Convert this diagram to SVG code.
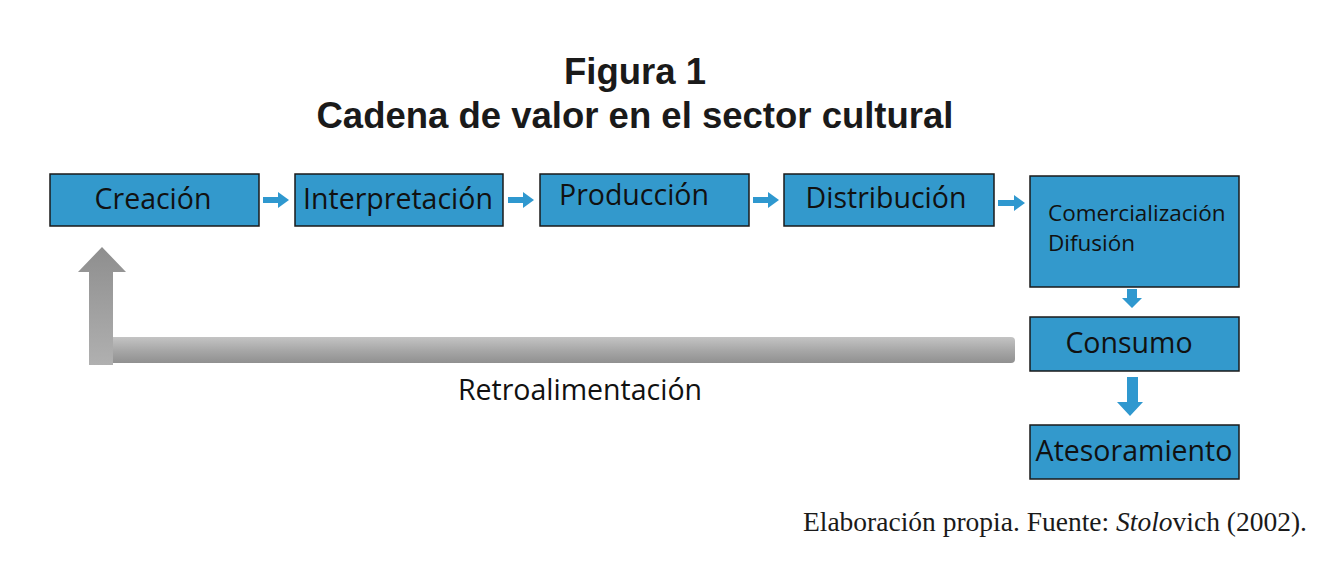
<svg xmlns="http://www.w3.org/2000/svg" width="1320" height="584" viewBox="0 0 1320 584">
<defs>
<style>
.box{fill:#3399cc;stroke:#1a1a1a;stroke-width:1.5}
.lbl{font-family:"Open Sans","Noto Sans",sans-serif;fill:#111;font-size:28.5px;text-anchor:middle}
.sm{font-family:"Open Sans","Noto Sans",sans-serif;fill:#111;font-size:22.5px}
.ttl{font-family:"Liberation Sans",Arial,sans-serif;font-weight:bold;font-size:36.5px;fill:#1a1a1a;text-anchor:middle}
.arr{fill:#2f98cf}
</style>
<linearGradient id="gh" x1="0" y1="0" x2="0" y2="1">
<stop offset="0" stop-color="#c4c4c4"/><stop offset="0.5" stop-color="#a8a8a8"/><stop offset="1" stop-color="#909090"/>
</linearGradient>
<linearGradient id="gv" x1="0" y1="0" x2="0" y2="1">
<stop offset="0" stop-color="#8e8e8e"/><stop offset="1" stop-color="#b0b0b0"/>
</linearGradient>
</defs>
<rect width="1320" height="584" fill="#fff"/>
<text class="ttl" x="635" y="84">Figura 1</text>
<text class="ttl" x="635" y="128">Cadena de valor en el sector cultural</text>

<g id="connectors">
<path class="arr" d="M263,197 h15 v-5 l11,8 l-11,8 v-5 h-15 z"/>
<path class="arr" d="M508,197 h15 v-5 l11,8 l-11,8 v-5 h-15 z"/>
<path class="arr" d="M753,197 h15 v-5 l11,8 l-11,8 v-5 h-15 z"/>
<path class="arr" d="M998,200 h16 v-5 l11,8 l-11,8 v-5 h-16 z"/>
<path class="arr" d="M1127,289 h10 v9 h5 l-10,10 l-10,-10 h5 z"/>
<path class="arr" d="M1127,377 h11 v25 h5 l-13,14 l-13,-14 h10 z"/>
<g id="feedback">
<rect x="100" y="337" width="915" height="26" rx="4" fill="url(#gh)"/>
<path d="M89,365 V272 H78 L102,247 L126,272 H113 V365 Z" fill="url(#gv)"/>
</g>
</g>

<g id="n-creacion"><rect class="box" x="50" y="174" width="209" height="52"/><text class="lbl" x="153" y="209">Creación</text></g>
<g id="n-interpretacion"><rect class="box" x="295" y="174" width="208" height="52"/><text class="lbl" x="398" y="209">Interpretación</text></g>
<g id="n-produccion"><rect class="box" x="540" y="174" width="209" height="52"/><text class="lbl" x="634" y="205">Producción</text></g>
<g id="n-distribucion"><rect class="box" x="784" y="174" width="210" height="52"/><text class="lbl" x="886" y="208">Distribución</text></g>
<g id="n-comercializacion"><rect class="box" x="1030" y="176" width="209" height="111"/><text class="sm" x="1048" y="221">Comercialización</text><text class="sm" x="1048" y="251">Difusión</text></g>
<g id="n-consumo"><rect class="box" x="1030" y="317" width="209" height="54"/><text class="lbl" x="1129" y="353">Consumo</text></g>
<g id="n-atesoramiento"><rect class="box" x="1030" y="425" width="209" height="54"/><text class="lbl" x="1134" y="461">Atesoramiento</text></g>

<text class="lbl" x="580" y="400">Retroalimentación</text>
<text x="1307" y="531" text-anchor="end" font-family="Liberation Serif,'Times New Roman',serif" font-size="27.5" fill="#1a1a1a">Elaboración propia. Fuente: <tspan font-style="italic">Stolo</tspan>vich (2002).</text>
</svg>
